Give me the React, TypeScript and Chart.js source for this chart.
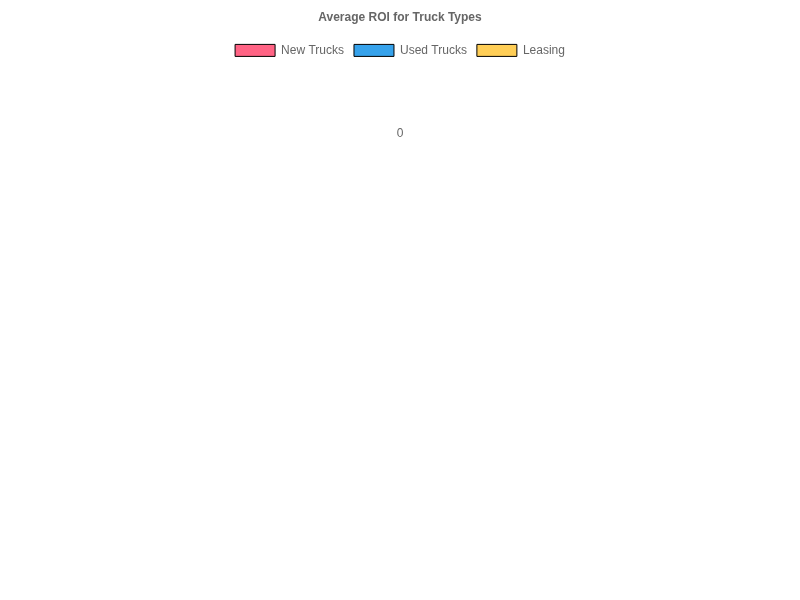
import { useEffect, useRef } from "react"
import { Chart, registerables } from "chart.js"

Chart.register(...registerables)

// categories on the radial axis (none were drawn in the reference)
const categories: string[] = []

// series
const seriesNames = ["New Trucks", "Used Trucks", "Leasing"]
const newTrucks: number[] = []
const usedTrucks: number[] = []
const leasing: number[] = []

// the only tick label shown on the r axis
const tickValues = [0]

const fills = ["#ff6384", "#36a2eb", "#ffce56"]

function RoiChart() {
  const chartRef = useRef<HTMLCanvasElement>(null)
  const chartInstanceRef = useRef<Chart | null>(null)

  useEffect(() => {
    if (!chartRef.current) return

    if (chartInstanceRef.current) {
      chartInstanceRef.current.destroy()
    }

    const series = [newTrucks, usedTrucks, leasing]

    chartInstanceRef.current = new Chart(chartRef.current, {
      type: "radar",
      data: {
        labels: categories,
        datasets: series.map((values, i) => ({
          label: seriesNames[i],
          data: values,
          backgroundColor: fills[i],
          borderColor: "#000",
          borderWidth: 1,
        })),
      },
      options: {
        animation: false,
        responsive: true,
        maintainAspectRatio: false,
        scales: {
          r: {
            min: -1,
            max: 0,
            reverse: true,
            afterBuildTicks: (axis: any) => {
              axis.ticks = tickValues.map((value) => ({ value }))
            },
          },
        },
        plugins: {
          title: {
            display: true,
            text: "Average ROI for Truck Types",
          },
        },
      },
    })

    return () => {
      if (chartInstanceRef.current) {
        chartInstanceRef.current.destroy()
        chartInstanceRef.current = null
      }
    }
  }, [])

  return (
    <div style={{ position: "absolute", top: 0, left: 0, width: 800, height: 202 }}>
      <canvas ref={chartRef}></canvas>
    </div>
  )
}

export default function App() {
  return <RoiChart />
}
